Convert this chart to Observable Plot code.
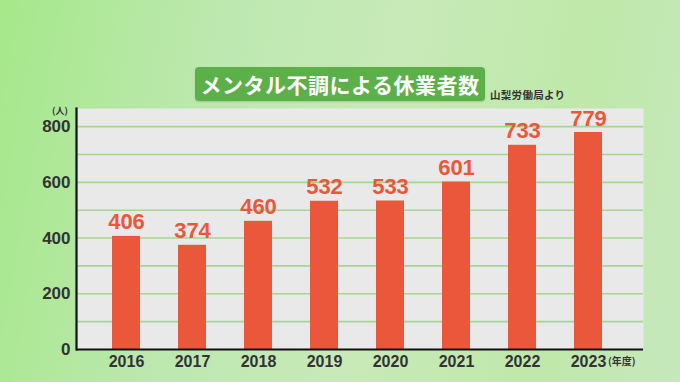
<!DOCTYPE html>
<html><head><meta charset="utf-8">
<script src="https://cdn.jsdelivr.net/npm/d3@7"></script>
<script src="https://cdn.jsdelivr.net/npm/@observablehq/plot@0.6"></script>
<style>
html,body{margin:0;padding:0;}
body{width:680px;height:382px;overflow:hidden;position:relative;
 background:linear-gradient(100deg,#a6e88a 0%,#bde8b0 30%,#c8eab8 55%,#bfe8aa 80%,#c6e8bc 100%);
 font-family:"Noto Sans CJK JP",sans-serif;}
#chart{position:absolute;left:0;top:0;}
#title{position:absolute;left:195px;top:67px;width:290px;height:34px;background:#5bb04a;border-radius:4px;
 color:#fff;font-weight:700;font-size:21px;line-height:34px;text-align:center;letter-spacing:0.5px;box-shadow:0 1px 2px rgba(0,0,0,0.15);}
#src{position:absolute;left:490px;top:87px;font-size:10.5px;font-weight:700;color:#333;letter-spacing:0.3px;}
#unitY{position:absolute;left:52px;top:104px;font-size:9px;font-weight:700;color:#333;}
#unitX{position:absolute;left:608px;top:353px;font-size:10px;font-weight:700;color:#333;}
</style></head>
<body>
<div id="chart"></div>
<div id="title">メンタル不調による休業者数</div>
<div id="src">山梨労働局より</div>
<div id="unitY">(人)</div>
<div id="unitX">(年度)</div>
<script>
const years = ["2016","2017","2018","2019","2020","2021","2022","2023"];
const values = [406,374,460,532,533,601,733,779];
const yTicks = [0,200,400,600,800];
const gridTicks = [100,200,300,400,500,600,700,800];

const data = years.map((y,i)=>({year:y,value:values[i]}));
const numFont = "Liberation Sans, Arial, sans-serif";

const chart = Plot.plot({
  width:680, height:382,
  marginTop:108, marginBottom:33, marginLeft:76, marginRight:37,
  style:{background:"transparent", fontFamily:numFont},
  x:{type:"band", domain:years, range:[92,621], paddingInner:0.58, paddingOuter:0.29, axis:null},
  y:{domain:[0,865], axis:null},
  marks:[
    Plot.frame({fill:"#e9e9e9", stroke:null}),
    Plot.ruleY(gridTicks,{stroke:"#a5d690", strokeWidth:1.6}),
    Plot.barY(data,{x:"year", y:"value", fill:"#ea573a"}),
    Plot.text(data,{x:"year", y:"value", text:d=>String(d.value), dy:-14, fill:"#ea573a",
      fontSize:22, fontWeight:"bold", fontFamily:numFont}),
    Plot.frame({anchor:"left", stroke:"#111", strokeWidth:2.2}),
    Plot.ruleY([0],{stroke:"#111", strokeWidth:2.2}),
    Plot.axisY({ticks:yTicks, tickSize:0, tickPadding:6, fontSize:17, fontWeight:"bold", fill:"#333", label:null, fontFamily:numFont}),
    Plot.axisX({tickSize:0, tickPadding:6, fontSize:16, fontWeight:"bold", fill:"#333", label:null, fontFamily:numFont})
  ]
});
document.getElementById("chart").appendChild(chart);
</script>
</body></html>
